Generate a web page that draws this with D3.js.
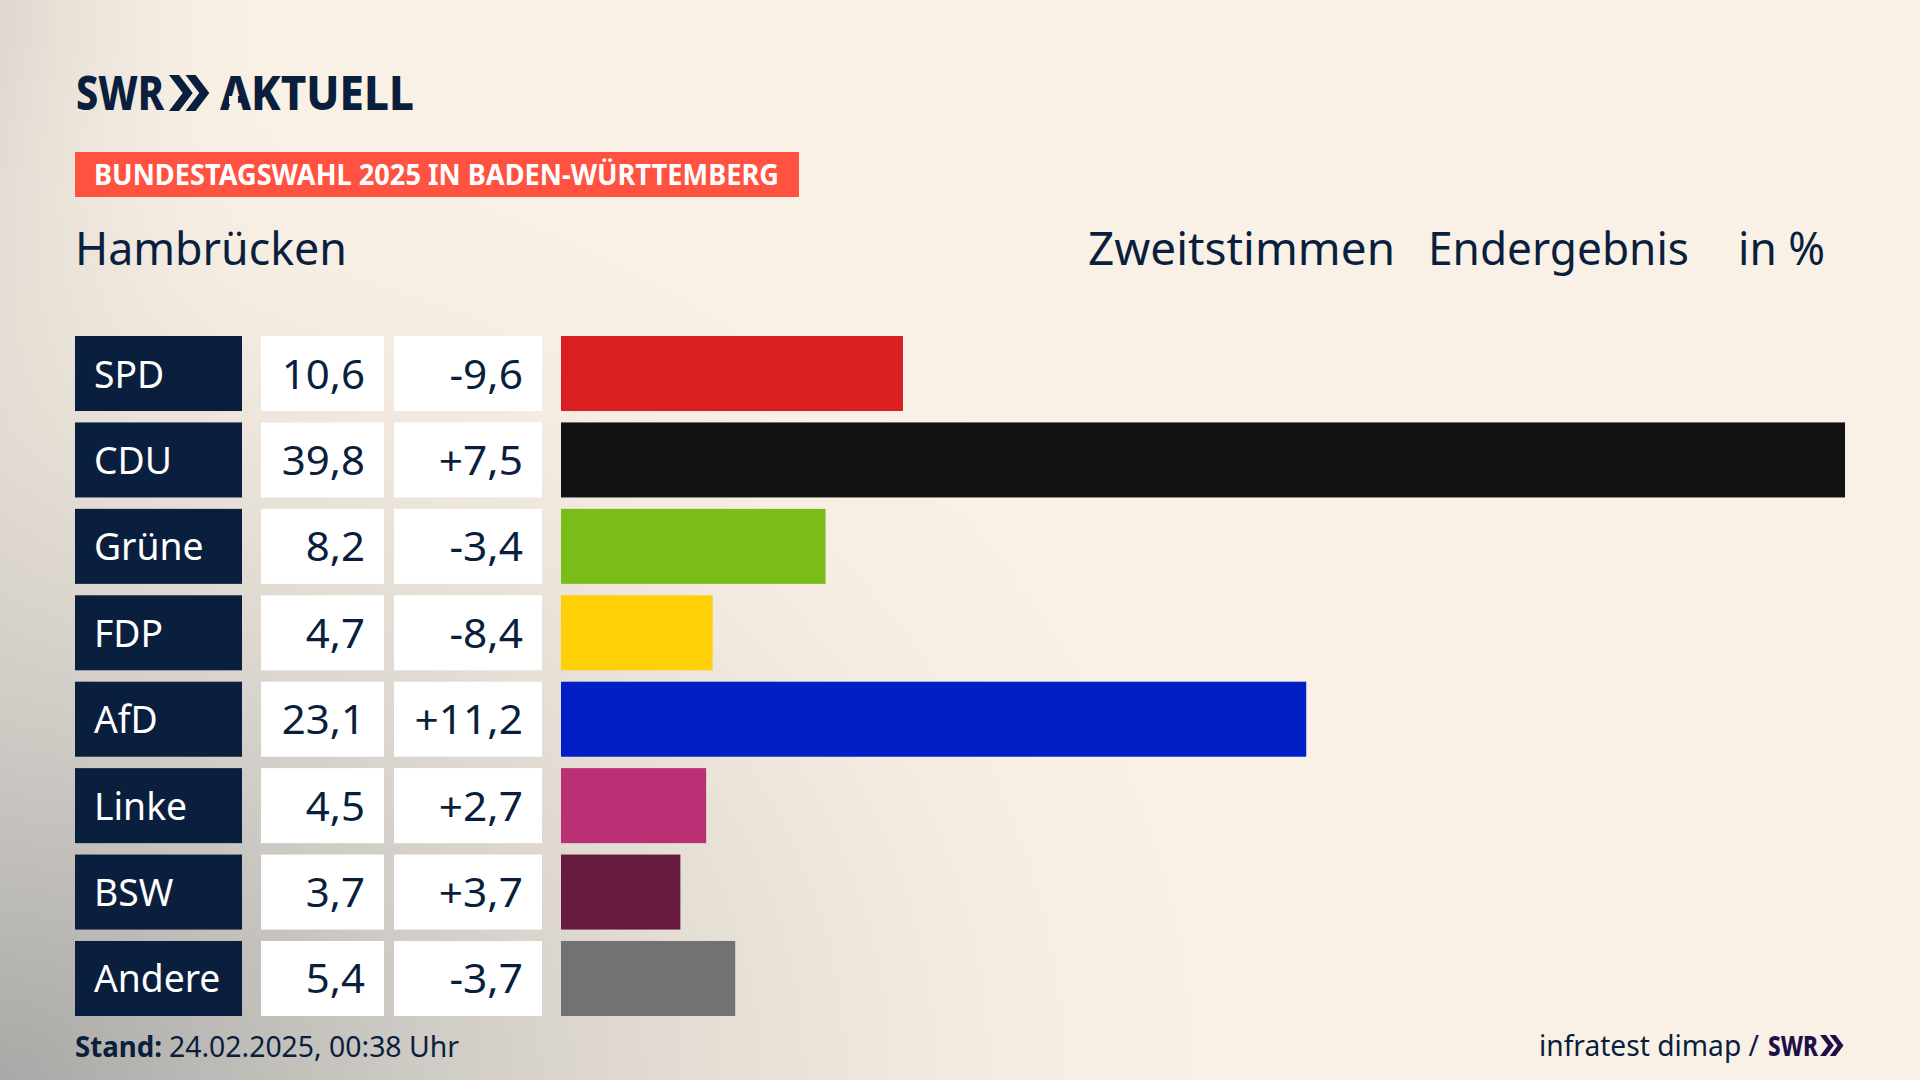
<!DOCTYPE html>
<html>
<head>
<meta charset="utf-8">
<script src="https://cdn.jsdelivr.net/npm/d3@7"></script>
<style>
html,body{margin:0;padding:0;background:#faf1e6;}
svg{display:block;}
text{font-family:"Noto Sans",sans-serif;}
</style>
</head>
<body>
<div id="chart"></div>
<script>
const parties = ["SPD","CDU","Grüne","FDP","AfD","Linke","BSW","Andere"];
const shares = [10.6,39.8,8.2,4.7,23.1,4.5,3.7,5.4];
const changes = ["-9,6","+7,5","-3,4","-8,4","+11,2","+2,7","+3,7","-3,7"];
const partyColors = ["#d91f1f","#121212","#7abd18","#ffcf08","#001fc4","#bb3075","#661a3d","#717274"];

const navy = "#0a1f3d";
const width = 1920, height = 1080;

const svg = d3.select("#chart").append("svg").attr("width",width).attr("height",height);
const defs = svg.append("defs");

// background haze, darkest in the bottom left corner
const haze = defs.append("radialGradient").attr("id","haze")
  .attr("gradientUnits","userSpaceOnUse").attr("cx",0).attr("cy",0).attr("r",1300)
  .attr("gradientTransform","translate(0,1080) scale(1,0.8)");
haze.append("stop").attr("offset",0).attr("stop-color","#a9a8a6").attr("stop-opacity",1);
haze.append("stop").attr("offset",0.3).attr("stop-color","#c9c6c1").attr("stop-opacity",0.95);
haze.append("stop").attr("offset",0.62).attr("stop-color","#e4ddd4").attr("stop-opacity",0.7);
haze.append("stop").attr("offset",1).attr("stop-color","#faf1e6").attr("stop-opacity",0);

const edge = defs.append("linearGradient").attr("id","edge");
edge.append("stop").attr("offset",0).attr("stop-color","#d8d3cc").attr("stop-opacity",0.85);
edge.append("stop").attr("offset",1).attr("stop-color","#faf1e6").attr("stop-opacity",0);

svg.append("rect").attr("width",width).attr("height",height).attr("fill","#faf1e6");
svg.append("rect").attr("width",300).attr("height",height).attr("fill","url(#edge)");
svg.append("rect").attr("width",width).attr("height",height).attr("fill","url(#haze)");

// squeezes a text to a share of its natural width, the original face is narrow
function squeeze(sel, k){
  sel.each(function(){
    const len = this.getComputedTextLength();
    d3.select(this).attr("lengthAdjust","spacingAndGlyphs").attr("textLength",len*k);
  });
  return sel;
}
function fit(sel, w){
  return sel.attr("lengthAdjust","spacingAndGlyphs").attr("textLength",w);
}
function chevrons(g, x, y, h, color){
  const w = h*0.38, t = h*0.28;
  [0, h*0.46].forEach(dx => {
    g.append("path")
      .attr("d",`M${x+dx},${y} L${x+dx+t},${y} L${x+dx+t+w},${y+h/2} L${x+dx+t},${y+h} L${x+dx},${y+h} L${x+dx+w},${y+h/2} Z`)
      .attr("fill",color);
  });
}

// logo
const logo = svg.append("g");
fit(logo.append("text").attr("x",76).attr("y",110).attr("font-size",48).attr("font-weight",800)
  .attr("fill",navy).text("SWR"),88);
chevrons(logo,169,75,36,navy);
fit(logo.append("text").attr("x",220).attr("y",110).attr("font-size",48).attr("font-weight",800)
  .attr("fill",navy).text("AKTUELL"),194);
// the wordmark's A has no crossbar
logo.append("rect").attr("x",229).attr("y",96).attr("width",9).attr("height",8).attr("fill","#f9f0e5");

// banner
svg.append("rect").attr("x",75).attr("y",152).attr("width",724).attr("height",45).attr("fill","#ff5240");
fit(svg.append("text").attr("x",94).attr("y",185).attr("font-size",29).attr("font-weight",700)
  .attr("fill","#fff").text("BUNDESTAGSWAHL 2025 IN BADEN-WÜRTTEMBERG"),685);

// headings
const heading = (x,w,t) => fit(svg.append("text").attr("x",x).attr("y",265).attr("font-size",46)
  .attr("fill",navy).text(t),w);
heading(75,272,"Hambrücken");
heading(1088,307,"Zweitstimmen");
heading(1428,261,"Endergebnis");
heading(1738,87,"in %");

// rows
const y = d3.scaleBand().domain(parties).range([336,1016]).paddingInner(0.132);
const x = d3.scaleLinear().domain([0,39.8]).range([561,1845]);

const rows = svg.selectAll("g.row").data(parties).join("g").attr("class","row")
  .attr("transform",d => `translate(0,${y(d)})`);
const bh = y.bandwidth();

rows.append("rect").attr("x",75).attr("width",167).attr("height",bh).attr("fill",navy);
rows.append("rect").attr("x",261).attr("width",123).attr("height",bh).attr("fill","#fff");
rows.append("rect").attr("x",394).attr("width",148).attr("height",bh).attr("fill","#fff");
rows.append("rect").attr("x",x(0)).attr("height",bh)
  .attr("width",(d,i) => x(shares[i])-x(0)).attr("fill",(d,i) => partyColors[i]);

squeeze(rows.append("text").attr("x",94).attr("y",bh/2+14).attr("font-size",38).attr("fill","#fff").text(d => d),0.98);
squeeze(rows.append("text").attr("x",365).attr("y",bh/2+15).attr("font-size",40).attr("text-anchor","end")
  .attr("fill",navy).text((d,i) => shares[i].toFixed(1).replace(".",",")),1.05);
squeeze(rows.append("text").attr("x",523).attr("y",bh/2+15).attr("font-size",40).attr("text-anchor","end")
  .attr("fill",navy).text((d,i) => changes[i]),1.06);

// footer
fit(svg.append("text").attr("x",75).attr("y",1057).attr("font-size",29).attr("font-weight",700)
  .attr("fill",navy).text("Stand:"),87);
fit(svg.append("text").attr("x",169).attr("y",1057).attr("font-size",29)
  .attr("fill",navy).text("24.02.2025, 00:38 Uhr"),290);
fit(svg.append("text").attr("x",1539).attr("y",1056).attr("font-size",29)
  .attr("fill",navy).text("infratest dimap /"),220);
fit(svg.append("text").attr("x",1768).attr("y",1056).attr("font-size",28).attr("font-weight",800)
  .attr("fill","#20104a").text("SWR"),50);
chevrons(svg.append("g"),1820,1035,21,"#20104a");
</script>
</body>
</html>
